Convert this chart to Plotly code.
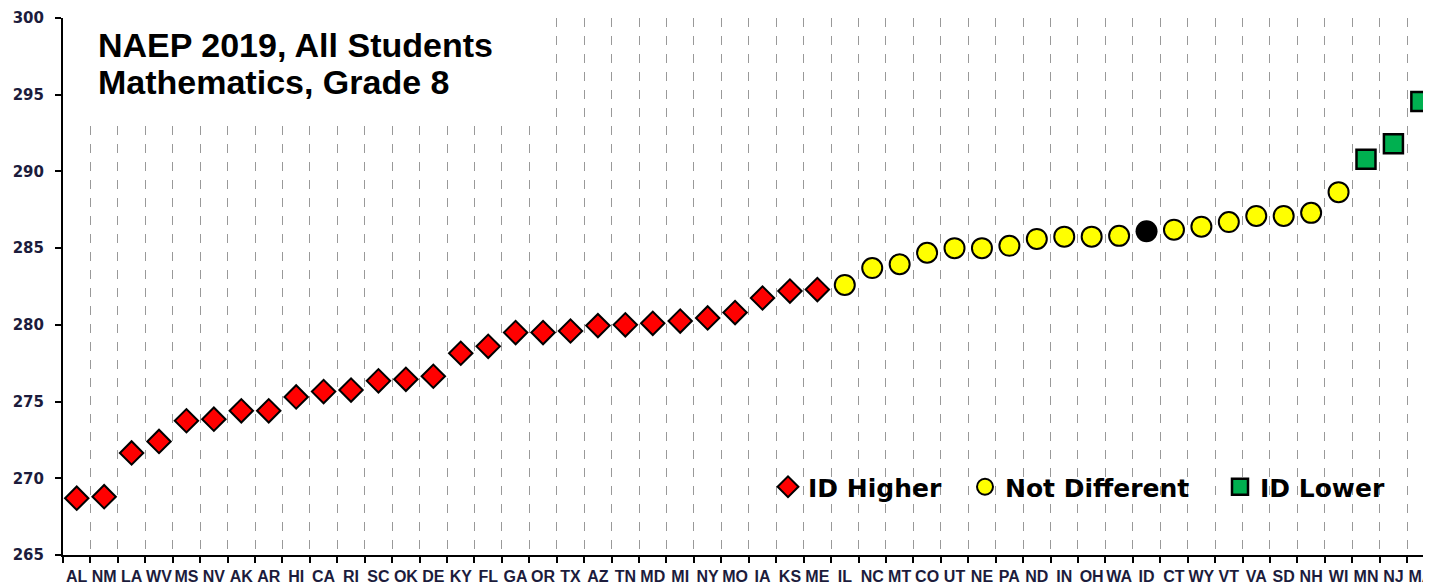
import plotly.graph_objects as go

states = ["AL","NM","LA","WV","MS","NV","AK","AR","HI","CA","RI","SC","OK","DE","KY",
          "FL","GA","OR","TX","AZ","TN","MD","MI","NY","MO","IA","KS","ME","IL","NC",
          "MT","CO","UT","NE","PA","ND","IN","OH","WA","ID","CT","WY","VT","VA","SD",
          "NH","WI","MN","NJ","MA"]
scores = [268.7,268.8,271.65,272.4,273.75,273.85,274.4,274.4,275.3,275.65,275.75,276.35,276.45,276.65,278.15,
          278.6,279.5,279.5,279.6,279.95,280.0,280.1,280.25,280.45,280.8,281.75,282.2,282.3,282.6,283.7,
          283.95,284.7,285.0,285.0,285.15,285.6,285.75,285.75,285.8,286.1,286.2,286.4,286.7,287.1,287.1,
          287.3,288.65,290.8,291.8,294.55]
groups = ["H"]*28 + ["N"]*11 + ["ID"] + ["N"]*7 + ["L"]*3

def pick(g):
    xs = [s for s, gg in zip(states, groups) if gg == g]
    ys = [v for v, gg in zip(scores, groups) if gg == g]
    return xs, ys

# page body has an 8px margin; figure sized so it ends at the window edge
OFF = 8
W, H = 1423, 580
PLOT_L, PLOT_T, PLOT_B = 63, 18, 555   # page pixel positions of the plot area
ML, MR, MT = PLOT_L - OFF, 0, PLOT_T - OFF
MB = H - (PLOT_B - OFF)
PW, PH = W - ML - MR, H - MT - MB
def px(xp): return (xp - PLOT_L) / PW
def py(yp): return (PLOT_B - yp) / PH

fig = go.Figure()
xh, yh = pick("H")
fig.add_trace(go.Scatter(x=xh, y=yh, mode="markers", name="ID Higher", legend="legend",
    marker=dict(symbol="diamond", size=18, color="#FF0000", line=dict(color="black", width=2))))
xn, yn = pick("N")
fig.add_trace(go.Scatter(x=xn, y=yn, mode="markers", name="Not Different", legend="legend2",
    marker=dict(symbol="circle", size=20, color="#FFFF00", line=dict(color="black", width=2))))
xl, yl = pick("L")
fig.add_trace(go.Scatter(x=xl, y=yl, mode="markers", name="ID Lower", legend="legend3",
    marker=dict(symbol="square", size=19, color="#00B050", line=dict(color="black", width=2.5))))
xi, yi = pick("ID")
fig.add_trace(go.Scatter(x=xi, y=yi, mode="markers", name="ID", showlegend=False,
    marker=dict(symbol="circle", size=22, color="black", line=dict(color="black", width=0))))

lab_color = "#1c1c3c"
fig.update_xaxes(type="category", categoryorder="array", categoryarray=states,
    range=[-0.5, 49.37], tickson="boundaries", showgrid=True, gridcolor="#999999",
    griddash="dash", gridwidth=1, showline=True, linecolor="black", linewidth=2,
    ticks="outside", ticklen=6, tickwidth=2, tickcolor="black", zeroline=False,
    tickangle=0, automargin=False,
    tickfont=dict(family="Liberation Sans", size=16, color=lab_color, weight="bold"),
    ticklabelstandoff=6, fixedrange=True)
fig.update_yaxes(range=[265, 300], dtick=5, tick0=265, showgrid=False, zeroline=False,
    showline=True, linecolor="black", linewidth=2, ticks="outside", ticklen=6, tickwidth=2,
    tickcolor="black", automargin=False,
    tickfont=dict(family="DejaVu Sans", size=15, color=lab_color, weight="bold"),
    ticklabelstandoff=8)

# white box behind title hiding grid lines
fig.add_shape(type="rect", xref="paper", yref="paper", x0=px(65), x1=px(545), y0=py(118), y1=1.0,
    fillcolor="white", line=dict(width=0), layer="above")

tfont = dict(family="Liberation Sans", size=34, color="black", weight="bold")
fig.add_annotation(text="NAEP 2019, All Students", xref="paper", yref="paper",
    x=px(96), y=py(44.5), xanchor="left", yanchor="middle", showarrow=False, font=tfont)
fig.add_annotation(text="Mathematics, Grade 8", xref="paper", yref="paper",
    x=px(96), y=py(81.5), xanchor="left", yanchor="middle", showarrow=False, font=tfont)

lfont = dict(family="DejaVu Sans", size=25, color="black", weight="bold")
common = dict(yanchor="middle", xanchor="left", bgcolor="rgba(0,0,0,0)", borderwidth=0,
              font=lfont, itemsizing="trace")
fig.update_layout(
    legend=dict(x=px(788 - 20), y=py(487), **common),
    legend2=dict(x=px(985 - 20), y=py(487), **common),
    legend3=dict(x=px(1240 - 20), y=py(487), **common),
)

fig.update_layout(width=W, height=H, margin=dict(l=ML, r=MR, t=MT, b=MB, autoexpand=False),
    plot_bgcolor="white", paper_bgcolor="white", showlegend=True)

fig.write_html("out.html",
               post_script="document.documentElement.style.overflow='hidden';")
